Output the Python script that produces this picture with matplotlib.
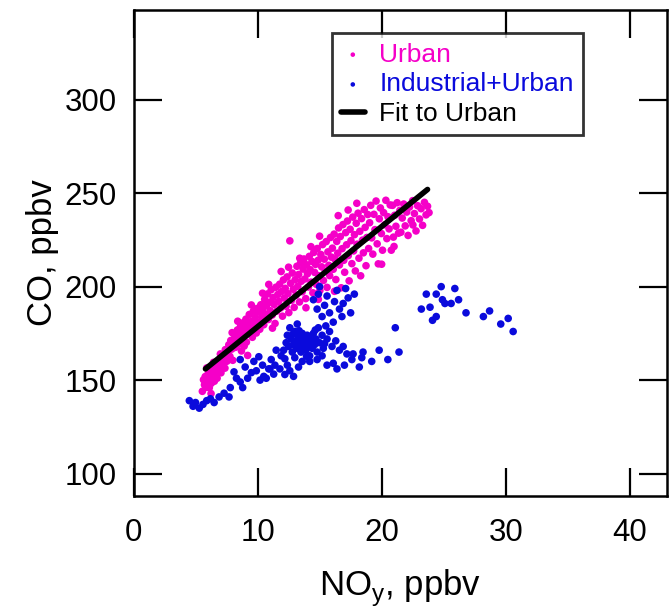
import matplotlib
matplotlib.use("Agg")
import matplotlib.pyplot as plt

plt.rcParams['font.family'] = ['Liberation Sans', 'DejaVu Sans']

urban = [
    (5.55,144),(5.72,147.5),(5.64,150.2),(5.83,146.1),(5.95,149.8),(6.02,153.4),(6.11,145.9),(6.18,151.7),
    (6.27,148.3),(6.33,155.2),(6.41,152.6),(6.52,149.4),(6.58,157.1),(6.66,154.3),(6.74,151.0),(6.81,158.6),
    (6.9,155.7),(6.97,160.3),(7.05,153.9),(7.12,157.8),(7.21,161.9),(7.28,159.2),(7.37,156.4),(7.45,163.0),
    (5.9,156.5),(6.45,159.5),(7.0,164.0),(6.25,142.8),(5.78,151.9),(7.4,166.3),
    (7.53,160.1),(7.6,165.4),(7.68,168.9),(7.77,162.7),(7.84,171.2),(7.92,166.6),(8.0,160.6),(8.05,169.8),
    (8.13,174.3),(8.21,167.5),(8.29,171.9),(8.37,176.8),(8.44,169.1),(8.52,173.6),(8.61,178.4),(8.68,171.3),
    (8.75,175.9),(8.83,180.7),(8.92,168.2),(8.98,177.5),(9.06,182.6),(9.15,174.8),(9.2,163.2),(9.27,179.3),
    (9.33,185.1),(9.42,176.6),(9.5,181.4),(9.58,172.9),(9.66,186.9),(9.72,178.8),(9.81,183.5),(9.9,175.2),
    (9.95,188.3),(8.4,181.5),(7.95,175.4),(9.1,170.3),(8.7,165.6),(9.5,190.2),
    (10.03,180.9),(10.11,186.4),(10.18,177.2),(10.26,190.3),(10.34,183.7),(10.42,187.9),(10.5,179.6),
    (10.57,193.2),(10.63,185.3),(10.72,189.8),(10.8,196.1),(10.87,182.4),(10.95,191.6),(11.03,187.1),
    (11.1,198.4),(11.18,184.8),(11.25,194.2),(11.33,190.5),(11.41,180.3),(11.48,199.7),(11.55,186.9),
    (11.63,195.8),(11.7,192.1),(11.78,201.3),(11.86,188.6),(11.93,197.4),(12.01,184.2),(12.08,203.6),
    (12.15,193.9),(12.23,199.1),(12.3,189.5),(12.38,205.2),(12.45,196.3),(12.52,186.1),(12.6,224.5),
    (12.66,201.8),(12.73,192.7),(12.8,207.3),(12.88,198.6),(12.95,188.9),(11.2,177.8),(10.4,196.5),
    (11.9,208.1),(12.5,210.4),(10.9,201.2),
    (13.03,203.7),(13.1,195.4),(13.17,210.9),(13.24,200.2),(13.31,206.5),(13.38,191.8),(13.46,212.6),
    (13.53,202.9),(13.6,197.3),(13.67,209.4),(13.74,214.8),(13.81,204.1),(13.88,193.6),(13.95,211.7),
    (14.02,206.9),(14.1,199.8),(14.17,216.2),(14.24,209.1),(14.31,202.4),(14.38,213.5),(14.46,196.7),
    (14.53,218.3),(14.6,207.6),(14.67,211.9),(14.74,201.2),(14.81,220.4),(14.88,214.1),(14.95,205.8),
    (15.02,197.9),(15.1,217.2),(15.17,210.6),(15.24,222.5),(15.31,203.3),(15.38,214.7),(15.46,208.2),
    (15.53,224.1),(15.6,199.6),(15.67,218.6),(15.74,211.4),(15.81,205.9),(15.88,226.3),(15.95,215.8),
    (13.4,215.2),(14.3,221.4),(15.0,227.0),(13.9,188.7),(14.9,193.2),
    (16.03,220.6),(16.1,209.3),(16.17,228.1),(16.24,214.7),(16.31,203.8),(16.38,224.2),(16.46,217.9),
    (16.53,231.4),(16.6,211.6),(16.67,226.8),(16.74,199.4),(16.81,220.3),(16.88,233.2),(16.95,214.1),
    (17.02,207.7),(17.1,228.9),(17.17,222.4),(17.24,235.1),(17.31,216.6),(17.38,203.1),(17.46,230.7),
    (17.53,224.6),(17.6,212.3),(17.67,237.2),(17.74,219.1),(17.81,227.8),(17.88,208.4),(17.95,233.9),
    (18.02,222.7),(18.1,239.3),(18.17,215.2),(18.24,229.6),(18.31,205.8),(18.38,236.4),(18.46,224.9),
    (18.53,218.1),(18.6,241.2),(18.67,231.7),(18.74,211.2),(18.81,226.3),(18.88,238.6),(18.95,220.4),
    (16.5,238.0),(17.3,241.0),(18.0,244.6),(16.2,197.5),
    (19.03,234.2),(19.12,243.5),(19.2,226.1),(19.29,217.4),(19.38,238.7),(19.46,230.5),(19.55,245.8),
    (19.64,222.9),(19.73,212.2),(19.81,236.3),(19.9,242.1),(19.98,228.4),(20.07,219.5),(20.16,239.6),
    (20.25,233.1),(20.34,246.2),(20.42,225.7),(20.51,237.4),(20.6,230.9),(20.69,243.7),(20.78,219.5),
    (20.88,243.5),(20.95,226.5),(21.05,238.2),(21.15,232.3),(21.25,244.9),(21.36,228.6),(21.47,240.8),
    (21.55,229.1),(21.66,236.7),(21.78,244.2),(21.9,232.5),(22.02,239.9),(22.13,227.4),(22.25,242.6),
    (22.38,235.3),(22.5,246.0),(22.52,233.0),(22.64,239.1),(22.77,229.8),(22.9,243.3),(23.05,236.2),
    (23.18,241.7),(23.3,232.8),(23.45,245.1),(23.58,238.4),(23.7,243.0),(23.82,239.6),(20.0,212.0),
    (21.0,221.5),
]

industrial = [
    (4.5,139),(4.8,136),(5.0,138),(5.3,135),(5.6,137),(5.9,139),(6.2,140),(6.5,138),(6.9,141),(7.3,143),
    (7.7,141),(7.8,146),(8.3,151),(8.6,149),(8.8,146),(8.6,161),(9.0,157),(9.2,151),(9.5,154),(9.9,155),
    (10.2,150),(10.5,152),(10.7,151),(10.9,156),(11.1,161),(11.0,156),(11.4,158),(11.8,156),(11.5,166),
    (10.4,158),(9.7,160),(12.2,153),(12.6,155),(12.9,152),(13.3,157),(10.1,162.5),(11.3,153.2),(8.1,154.4),
    (11.9,163),(12.1,166),(12.3,170),(12.5,168),(12.4,174),(12.7,172),(12.8,165),(12.9,169),(13.0,176),
    (13.1,171),(13.2,167),(13.3,173),(13.4,169),(13.5,165),(13.5,171),(13.6,175),(13.7,168),(13.8,172),
    (13.9,166),(14.0,170),(14.0,174),(14.1,168),(14.2,163),(14.3,171),(14.4,167),(14.5,175),(14.6,169),
    (14.7,172),(14.8,165),(14.9,178),(15.0,170),(15.2,174),(15.3,167),(15.5,179),(15.6,172),(15.8,176),
    (12.6,178),(13.0,162),(13.6,160),(14.2,160),(14.8,161),(15.2,163),(16.0,168),(16.3,171),(16.6,166),
    (16.9,168),(17.2,164),(17.6,161),(17.7,164),(18.2,157),(18.4,162),(18.5,165),(16.1,159),(16.4,156),
    (15.6,158),(17.0,158),(19.8,166),(20.5,161),(21.4,165),(21.1,178),(19.2,160),(13.2,180),(12.4,158),
    (13.35,176.4),(13.75,170.1),(14.15,172.8),(13.05,168.3),(14.45,170.9),(12.85,174.6),(13.95,162.7),
    (14.65,176.8),(12.2,161.4),(15.4,169.5),
    (14.5,193),(14.8,188),(15.0,200),(15.2,184),(15.4,190),(15.6,195),(15.8,186),(16.1,181),(16.2,192),
    (16.4,198),(16.6,188),(16.9,191),(17.1,199),(17.3,194),(17.8,196),(17.5,186),(16.8,184),(14.9,196),
    (23.2,188),(23.6,196),(23.9,189),(24.1,182),(24.4,196),(24.4,184),(24.8,200),(24.9,193),(25.1,191),
    (25.6,191),(25.9,199),(26.2,193),(26.8,186),(28.2,184),(28.7,187),(29.6,180),(30.2,183),(30.6,176),
]

fit_x = [5.8, 23.7]
fit_y = [156, 252]

x_ticks = [0, 10, 20, 30, 40]
y_ticks = [100, 150, 200, 250, 300]

URBAN_C = '#F500C8'
IND_C = '#0A0ADC'

fig = plt.figure(figsize=(6.71, 6.10), dpi=100)
ax = fig.add_axes([133.5/671, 114/610, 533.5/671, 486/610])

ux, uy = zip(*urban)
ix, iy = zip(*industrial)
ax.scatter(ux, uy, s=30, color=URBAN_C, edgecolors='none', label='Urban', zorder=2)
ax.scatter(ix, iy, s=30, color=IND_C, edgecolors='none', label='Industrial+Urban', zorder=2)
ax.plot(fit_x, fit_y, color='black', lw=4, solid_capstyle='round', label='Fit to Urban', zorder=3)

ax.set_xlim(0, 43)
ax.set_ylim(88, 348)
ax.set_xticks(x_ticks)
ax.set_yticks(y_ticks)
ax.tick_params(direction='in', length=20, width=1.6, top=True, right=True,
               labelsize=22.5, pad=12, colors='black')
ax.tick_params(axis='x', pad=16)
for sp in ax.spines.values():
    sp.set_linewidth(1.8)

ax.set_xlabel('NO$_\\mathregular{y}$, ppbv', fontsize=25, labelpad=14)
ax.set_ylabel('CO, ppbv', fontsize=25, labelpad=4)

leg = ax.legend(loc='upper left', bbox_to_anchor=(0.3715, 0.952), borderaxespad=0,
                fontsize=19, frameon=True, fancybox=False, handlelength=0.9,
                handletextpad=0.55, borderpad=0.35, labelspacing=0.22, markerscale=0.6)
leg.get_frame().set_edgecolor('black')
leg.get_frame().set_linewidth(2)
for t, c in zip(leg.get_texts(), [URBAN_C, IND_C, 'black']):
    t.set_color(c)

fig.savefig('out.png', dpi=100)
